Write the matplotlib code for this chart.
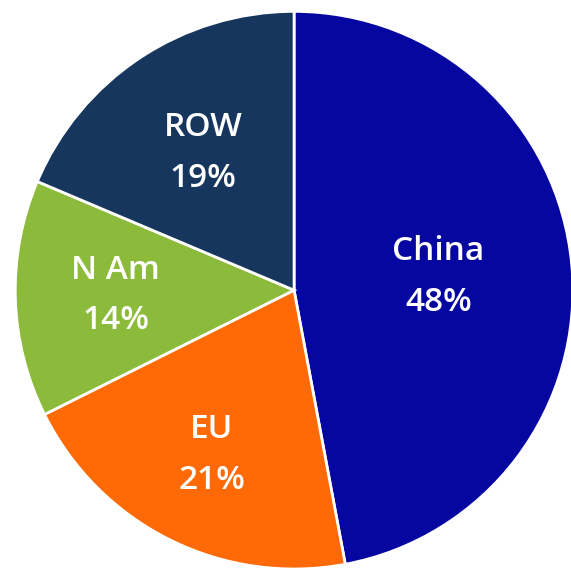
import numpy as np
from matplotlib import pyplot as plt

regions = ["China", "EU", "N Am", "ROW"]
shares = [48, 21, 14, 19]
colors = ["#0606A0", "#FF6A06", "#8CBA3A", "#17365D"]

# how far from the centre each label sits (fraction of radius)
label_r = [0.52, 0.66, 0.64, 0.59]

fig = plt.figure(figsize=(5.71, 5.69), dpi=100)
ax = fig.add_axes([0.026, 0.0, 0.978, 0.98])

wedges, _ = ax.pie(shares, colors=colors, startangle=90, counterclock=False,
                   wedgeprops=dict(edgecolor="white", linewidth=2))
ax.set_xlim(-1, 1)
ax.set_ylim(-1, 1)
ax.set_aspect("equal")

for w, name, val, r in zip(wedges, regions, shares, label_r):
    ang = np.deg2rad((w.theta1 + w.theta2) / 2)
    ax.text(r * np.cos(ang), r * np.sin(ang), "%s\n%d%%" % (name, val),
            ha="center", va="center", color="white", fontsize=24,
            family=["Open Sans", "DejaVu Sans"], weight="semibold",
            linespacing=1.7)

fig.savefig("out.png", dpi=100)
